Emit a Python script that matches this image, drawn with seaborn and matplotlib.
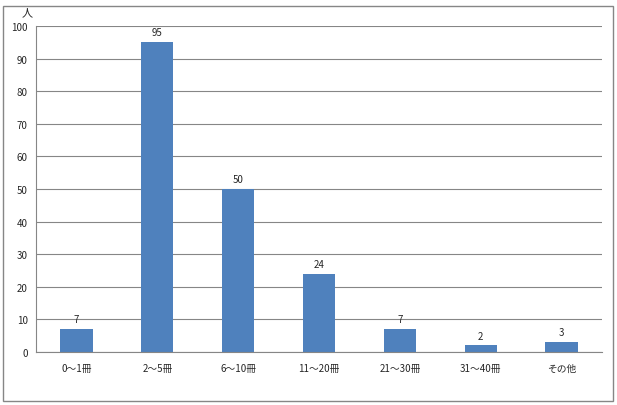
import matplotlib
matplotlib.use("Agg")
import matplotlib.pyplot as plt
import seaborn as sns
import pandas as pd

categories = ["0～1冊", "2～5冊", "6～10冊", "11～20冊", "21～30冊", "31～40冊", "その他"]
counts = [7, 95, 50, 24, 7, 2, 3]
yticks = list(range(0, 101, 10))

sns.set_style("white")
plt.rcParams['font.family'] = ['Noto Sans CJK JP', 'DejaVu Sans']

df = pd.DataFrame({"cat": categories, "n": counts})

fig = plt.figure(figsize=(6.17, 4.06), dpi=100)
ax = fig.add_axes([36 / 617, 53 / 406, 566 / 617, 326 / 406])

sns.barplot(data=df, x="cat", y="n", color="#4F81BD", width=0.4, saturation=1,
            linewidth=0, ax=ax)

ax.set_ylim(0, 100)
ax.set_xlim(-0.5, len(categories) - 0.5)
ax.set_yticks(yticks)
ax.set_yticklabels([str(t) for t in yticks], fontsize=7)
ax.set_xticks(range(len(categories)))
ax.set_xticklabels(categories, fontsize=7)
ax.set_xlabel("")
ax.set_ylabel("")
ax.set_axisbelow(True)
ax.yaxis.grid(True, color="#868686", linewidth=0.8)

for s in ["top", "right"]:
    ax.spines[s].set_visible(False)
for s in ["left", "bottom"]:
    ax.spines[s].set_color("#868686")
    ax.spines[s].set_linewidth(0.8)

# small ticks between the categories
ax.set_xticks([i - 0.5 for i in range(len(categories) + 1)], minor=True)
ax.tick_params(axis="x", which="minor", length=4, color="#868686", direction="out")
ax.tick_params(axis="x", which="major", length=0, pad=8)
ax.tick_params(axis="y", length=4, color="#868686", direction="out", pad=2)

for i, v in enumerate(counts):
    ax.text(i, v + 1.5, str(v), ha="center", va="bottom", fontsize=7)

fig.text(27 / 617, 1 - 13 / 406, "人", ha="center", va="center", fontsize=8)

border = plt.Rectangle((3 / 617, 4 / 406), 610 / 617, 395 / 406, transform=fig.transFigure,
                       fill=False, edgecolor="#868686", linewidth=1)
fig.patches.append(border)

fig.savefig("out.png", dpi=100)
